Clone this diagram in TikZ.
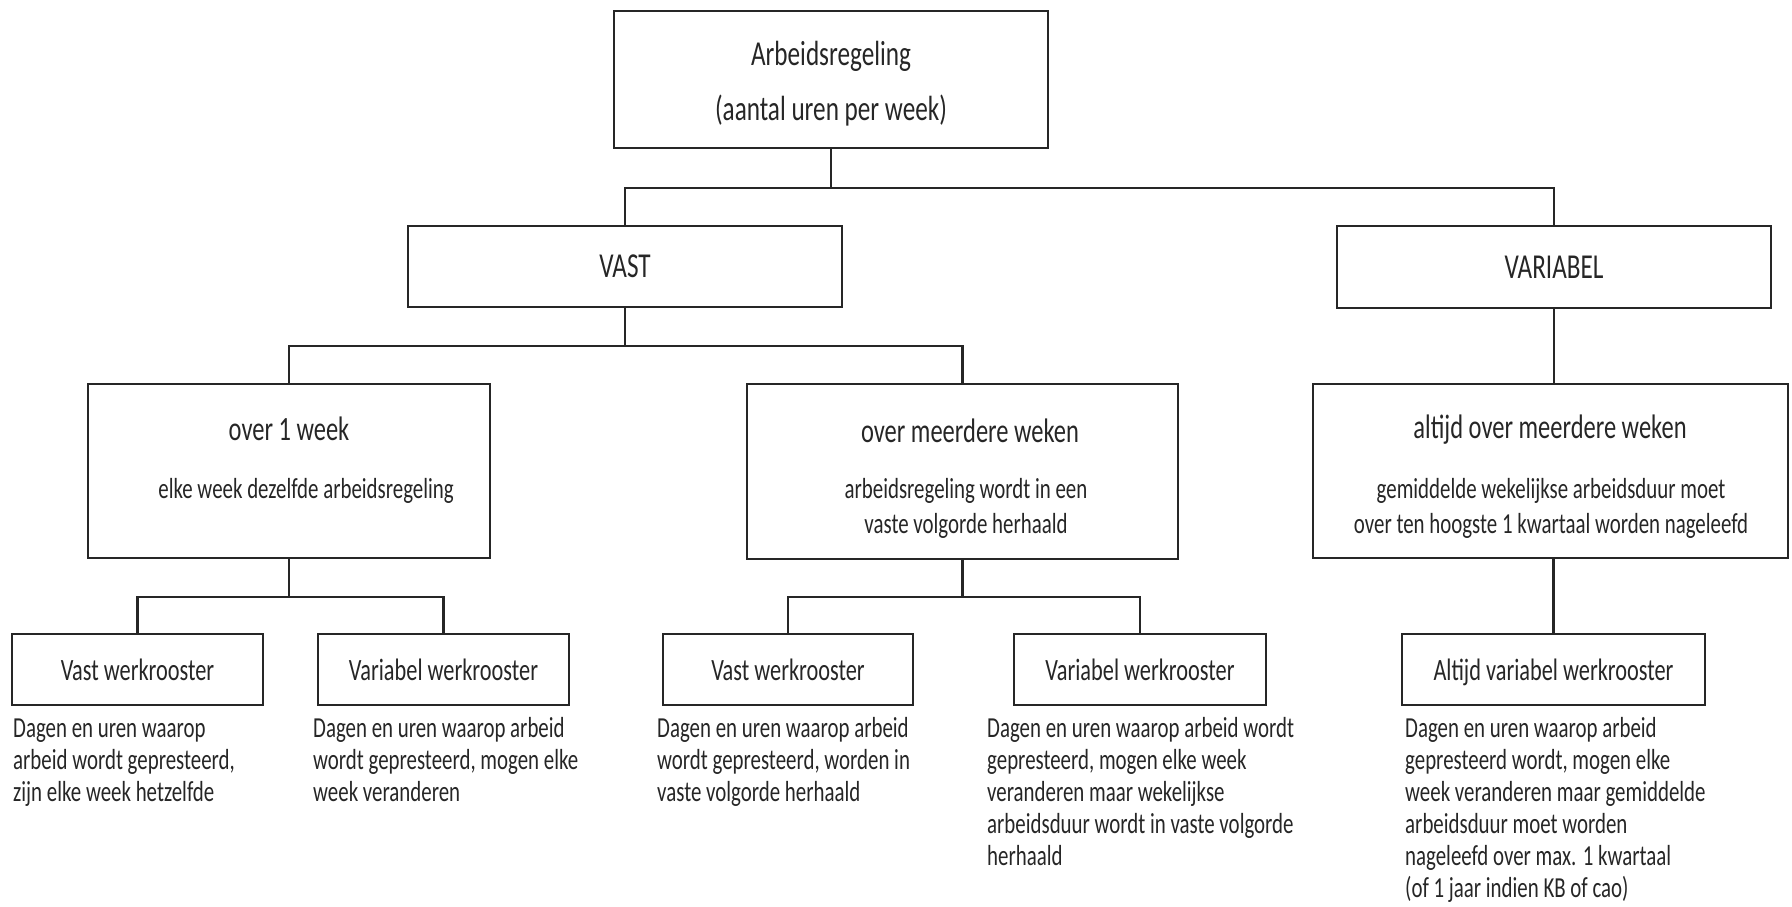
\documentclass[tikz,border=0pt]{standalone}
\usepackage{fontspec}
\setmainfont[FakeStretch=0.72]{Carlito}
\begin{document}
\begin{tikzpicture}[x=1pt,y=-1pt,
  box/.style={draw=black!85, line width=2.4pt, rectangle, inner sep=0pt, text=black!85},
  conn/.style={draw=black!85, line width=2.2pt},
  ttl/.style={anchor=base, inner sep=0pt, text=black!85, align=center, font=\fontsize{34}{40}\selectfont},
  sub/.style={anchor=base, inner sep=0pt, text=black!85, align=center, font=\fontsize{29}{35}\selectfont},
  small/.style={box, minimum height=71pt, text height=28pt, text depth=7pt, font=\fontsize{31}{36}\selectfont},
  desc/.style={anchor=base west, inner sep=0pt, text=black!85, align=left, font=\fontsize{29}{32}\selectfont}
]
\useasboundingbox (0,0) rectangle (1792,906);

% level 1 (multi-line nodes: base anchor = baseline of last line)
\node[box, minimum width=434pt, minimum height=137pt] (top) at (831,79.5) {};
\node[ttl, font=\fontsize{35}{55}\selectfont] (toptxt) at (831,120) {Arbeidsregeling\\(aantal uren per week)};

% level 2
\node[box, minimum width=434pt, minimum height=81pt, font=\fontsize{35}{40}\selectfont] (vast) at (625,266.5) {VAST};
\node[box, minimum width=434pt, minimum height=82pt, font=\fontsize{35}{40}\selectfont] (variabel) at (1554,267) {VARIABEL};

% level 3
\node[box, minimum width=402pt, minimum height=174pt] (over1) at (289,471) {};
\node[ttl] (over1t) at (289,440) {over 1 week};
\node[sub] (over1s) at (306,498) {elke week dezelfde arbeidsregeling};

\node[box, minimum width=431pt, minimum height=175pt] (meer) at (962.5,471.5) {};
\node[ttl] (meert) at (970,442) {over meerdere weken};
\node[sub] (meers) at (966,533) {arbeidsregeling wordt in een\\vaste volgorde herhaald};

\node[box, minimum width=475pt, minimum height=174pt] (altijd) at (1550.5,471) {};
\node[ttl] (altijdt) at (1550,438) {altijd over meerdere weken};
\node[sub] (altijds) at (1551,533) {gemiddelde wekelijkse arbeidsduur moet\\over ten hoogste 1 kwartaal worden nageleefd};

% level 4
\node[small, minimum width=251pt] (s1) at (137.5,669.5) {Vast werkrooster};
\node[small, minimum width=251pt] (s2) at (443.5,669.5) {Variabel werkrooster};
\node[small, minimum width=250pt] (s3) at (788,669.5) {Vast werkrooster};
\node[small, minimum width=252pt] (s4) at (1140,669.5) {Variabel werkrooster};
\node[small, minimum width=303pt] (s5) at (1553.5,669.5) {Altijd variabel werkrooster};

% descriptions
\node[desc] (d1) at (13,801) {Dagen en uren waarop\\arbeid wordt gepresteerd,\\zijn elke week hetzelfde};
\node[desc] (d2) at (313,801) {Dagen en uren waarop arbeid\\wordt gepresteerd, mogen elke\\week veranderen};
\node[desc] (d3) at (657,801) {Dagen en uren waarop arbeid\\wordt gepresteerd, worden in\\vaste volgorde herhaald};
\node[desc] (d4) at (987,865) {Dagen en uren waarop arbeid wordt\\gepresteerd, mogen elke week\\veranderen maar wekelijkse\\arbeidsduur wordt in vaste volgorde\\herhaald};
\node[desc] (d5) at (1405,897) {Dagen en uren waarop arbeid\\gepresteerd wordt, mogen elke\\week veranderen maar gemiddelde\\arbeidsduur moet worden\\nageleefd over max. 1 kwartaal\\(of 1 jaar indien KB of cao)};

% connectors
\coordinate (f1) at (831,188);
\coordinate (f2) at (625,346);
\coordinate (f3) at (289,597);
\coordinate (f4) at (962.5,597);

\draw[conn] (top.south) -- (f1);
\draw[conn] (vast.north) |- (f1) -| (variabel.north);
\draw[conn] (vast.south) -- (f2);
\draw[conn] (over1.north) |- (f2) -| (meer.north);
\draw[conn] (over1.south) -- (f3);
\draw[conn] (s1.north) |- (f3) -| (s2.north);
\draw[conn] (meer.south) -- (f4);
\draw[conn] (s3.north) |- (f4) -| (s4.north);
\draw[conn] (variabel.south) -- (variabel.south |- altijd.north);
\draw[conn] (s5.north |- altijd.south) -- (s5.north);
\end{tikzpicture}
\end{document}
